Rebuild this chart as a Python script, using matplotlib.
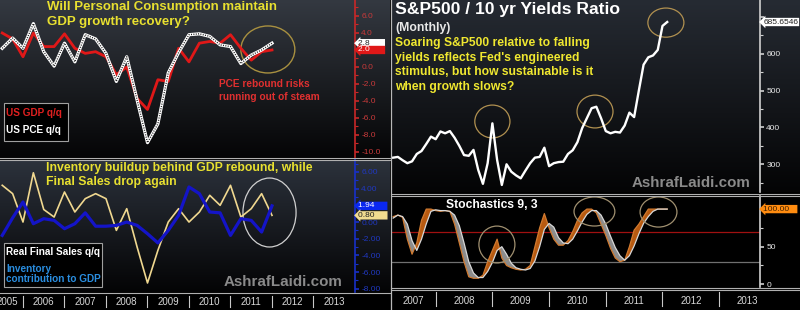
import numpy as np
import pandas as pd
import matplotlib.pyplot as plt
from matplotlib.colors import LinearSegmentedColormap
from matplotlib.patches import Ellipse, Rectangle
from matplotlib.lines import Line2D
from matplotlib.ticker import MultipleLocator, FuncFormatter

plt.rcParams['font.family'] = ['Liberation Sans', 'DejaVu Sans']
plt.rcParams['axes.unicode_minus'] = False

# quarterly data 2005Q2 - 2011Q4 (plotted at quarter end)
quarters = pd.period_range('2005Q2', '2011Q4', freq='Q')
gdp_qq = [4.0, 3.3, 1.2, 4.0, 2.4, 2.4, 3.9, 2.2, 1.6, 1.8, 1.2, -0.9, 0.0, -3.7,
          -5.0, -1.5, -1.7, 2.2, 0.6, 2.8, 3.0, 2.8, 3.8, 2.2, 0.8, 1.8, 2.0]
pce_qq = [2.2, 3.4, 2.2, 5.1, 1.8, 0.1, 2.8, 0.6, 3.8, 3.3, 1.6, -1.7, 1.2, -3.9,
          -8.9, -6.7, -0.7, 1.7, 3.8, 3.9, 3.6, 2.6, 2.4, 0.4, 1.4, 2.0, 2.8]
final_sales_qq = [4.4, 3.4, 0.0, 5.9, 1.5, 0.6, 3.6, 1.2, 2.8, 3.4, 2.8, -1.0, 1.6, -3.0,
                  -7.3, -3.4, 0.0, 1.6, 0.0, 1.2, 3.2, 2.0, 4.4, 0.6, 1.6, 3.4, 0.80]
inventory_contrib = [-1.6, 0.5, 2.4, -0.2, 0.4, 0.2, -0.8, -0.2, 1.1, -0.5, -0.5, -0.4, 0.0, -0.4,
                     -1.4, -2.5, -1.0, 0.8, 4.2, 3.4, 1.2, 1.1, -1.6, 0.4, 0.2, -1.2, 1.94]

# monthly data Apr 2007 - Feb 2012
months = pd.period_range('2007-04', '2012-02', freq='M')
spx_yield_ratio = [318, 320, 311, 303, 308, 328, 336, 355, 375, 368, 389, 384, 390, 372, 350,
                   325, 323, 339, 285, 247, 303, 411, 312, 244, 300, 280, 270, 262, 283, 303,
                   318, 320, 345, 295, 303, 306, 307, 328, 338, 360, 398, 425, 452, 456, 425,
                   390, 384, 388, 386, 405, 440, 428, 500, 570, 590, 595, 610, 675, 685.65]
stoch_k = [90, 92, 89, 60, 40, 55, 85, 100, 100, 98, 97, 98, 97, 80, 55, 30, 10, 8, 8, 12,
           30, 45, 60, 35, 25, 22, 20, 19, 20, 25, 50, 75, 94, 75, 60, 52, 52, 58, 70, 85,
           95, 100, 100, 95, 80, 65, 48, 35, 30, 32, 50, 72, 80, 90, 100, 100, 100, 100, 100]
stoch_d = [88, 92, 90, 80, 58, 45, 60, 80, 97, 99, 98, 98, 97, 92, 78, 55, 30, 15, 9, 9,
           17, 29, 45, 50, 40, 28, 22, 20, 19, 21, 31, 50, 73, 81, 76, 62, 55, 54, 60, 71,
           83, 93, 98, 98, 92, 80, 64, 49, 38, 32, 38, 51, 67, 81, 90, 97, 100, 100, 100]

years_left = list(range(2005, 2014))
years_right = list(range(2007, 2014))

xq = np.array([q.year + q.quarter / 4 for q in quarters])
xm = np.array([m.year + (m.month - 1) / 12 for m in months])

W, H = 800, 310
fig = plt.figure(figsize=(8, 3.1), dpi=100, facecolor='black')


def rect(x0, y0, x1, y1):
    return [x0 / W, 1 - y1 / H, (x1 - x0) / W, (y1 - y0) / H]


def background(r, top, bottom):
    bg = fig.add_axes(r)
    cm = LinearSegmentedColormap.from_list('bg', [top, bottom])
    bg.imshow(np.linspace(0, 1, 256)[:, None], aspect='auto', cmap=cm, extent=[0, 1, 0, 1])
    bg.axis('off')
    return bg


def panel(r, xlim, ylim, color, labelcolor, major, minor, fmt, hidden=()):
    ax = fig.add_axes(r, facecolor='none')
    ax.set_xlim(*xlim)
    ax.set_ylim(*ylim)
    for s in ['top', 'left', 'bottom']:
        ax.spines[s].set_visible(False)
    ax.spines['right'].set_color(color)
    ax.spines['right'].set_linewidth(1.2)
    ax.set_xticks([])
    ax.yaxis.tick_right()
    ax.yaxis.set_major_locator(MultipleLocator(major))
    ax.yaxis.set_minor_locator(MultipleLocator(minor))
    ax.yaxis.set_major_formatter(FuncFormatter(
        lambda v, p: '' if any(abs(v - h) < 1e-6 for h in hidden) else fmt % v))
    ax.tick_params(axis='y', which='major', colors=color, labelcolor=labelcolor,
                   labelsize=6, length=3, width=1.2, pad=1.5)
    ax.tick_params(axis='y', which='minor', colors=color, length=2, width=0.8)
    return ax


def value_tag(ax, v, text, fc, tc):
    ax.annotate(text, xy=(1, v), xycoords=ax.get_yaxis_transform(), xytext=(2.5, 0),
                textcoords='offset points', ha='left', va='center', fontsize=6, color=tc,
                bbox=dict(boxstyle='larrow,pad=0.08', fc=fc, ec='none'),
                annotation_clip=False, zorder=10)


def strip(r, xlim, years, sep_color, first_shift=0.0):
    ax = fig.add_axes(r, facecolor='black')
    ax.set_xlim(*xlim)
    ax.set_ylim(0, 1)
    ax.axis('off')
    for y in years[1:]:
        ax.axvline(y, ymin=0.2, ymax=0.85, color=sep_color, lw=0.8)
    for i, y in enumerate(years):
        lo, hi = max(y, xlim[0]), min(y + 1, xlim[1])
        xc = (lo + hi) / 2 - (first_shift if i == 0 else 0)
        ax.text(xc, 0.45, str(y), ha='center', va='center', fontsize=7,
                color='#d8d8d8', clip_on=True)
    return ax


# ---------------- left side ----------------
xl = (2005.446, 2014.0)
background(rect(0, 0, 390, 157), '#343941', '#050506')
background(rect(0, 160, 390, 292), '#2c323c', '#040405')

ax1 = panel(rect(0, 0, 355, 157), xl, (-10.59, 7.88), '#c82828', '#c83a3a', 2, 1, '%.1f',
            hidden=(2.0,))
ax1.plot(xq, gdp_qq, color='#e01818', lw=2.0, zorder=3)
ax1.plot(xq, pce_qq, color='white', lw=2.3, zorder=4)
ax1.plot(xq, pce_qq, color='#202020', lw=1.0, ls=(0, (0.7, 1.0)), zorder=5)
ax1.add_patch(Ellipse((2011.9, 2.06), 1.30, 5.53, fill=False, ec='#a89040', lw=1.0))
value_tag(ax1, 2.8, '2.8      ', 'white', '#202020')
value_tag(ax1, 2.0, '2.0      ', '#e01818', 'white')
ax1.text(47 / 355, 1 - 1 / 157, 'Will Personal Consumption maintain\nGDP growth recovery?',
         transform=ax1.transAxes, ha='left', va='top', fontsize=9.5, fontweight='bold',
         color='#e8e030', linespacing=1.35)
ax1.text(219 / 355, 1 - 79 / 157, 'PCE rebound risks\nrunning out of steam',
         transform=ax1.transAxes, ha='left', va='top', fontsize=7.3, fontweight='bold',
         color='#e03030', linespacing=1.35)
ax1.add_patch(Rectangle((4 / 355, 1 - 141 / 157), 64 / 355, 38 / 157, transform=ax1.transAxes,
                        fc='black', ec='#a0a0a0', lw=0.8, zorder=6))
ax1.text(6 / 355, 1 - 113 / 157, 'US GDP q/q', transform=ax1.transAxes, ha='left',
         va='center', fontsize=7.2, fontweight='bold', color='#e02020', zorder=7)
ax1.text(6 / 355, 1 - 130 / 157, 'US PCE q/q', transform=ax1.transAxes, ha='left',
         va='center', fontsize=7.2, fontweight='bold', color='white', zorder=7)

ax2 = panel(rect(0, 160, 355, 292), xl, (-8.38, 7.43), '#1830c8', '#2038c0', 2, 1, '%.2f',
            hidden=(2.0,))
ax2.plot(xq, final_sales_qq, color='#f0d890', lw=1.2, zorder=3)
ax2.plot(xq, inventory_contrib, color='#1414c8', lw=2.3, zorder=4)
ax2.add_patch(Ellipse((2011.94, 1.14), 1.28, 8.26, fill=False, ec='#d0d0d0', lw=0.9))
value_tag(ax2, 1.94, '1.94     ', '#0a28f0', 'white')
value_tag(ax2, 0.80, '0.80     ', '#f0dc90', '#202020')
ax2.text(46 / 355, 1 - 1.5 / 132, 'Inventory buildup behind GDP rebound, while\nFinal Sales drop again',
         transform=ax2.transAxes, ha='left', va='top', fontsize=8.8, fontweight='bold',
         color='#e8e030', linespacing=1.25)
ax2.add_patch(Rectangle((4 / 355, 1 - 127 / 132), 98 / 355, 44 / 132, transform=ax2.transAxes,
                        fc='black', ec='#a0a0a0', lw=0.8, zorder=6))
ax2.text(6 / 355, 1 - 92 / 132, 'Real Final Sales q/q', transform=ax2.transAxes, ha='left',
         va='center', fontsize=7.2, fontweight='bold', color='white', zorder=7)
ax2.text(6 / 355, 1 - 114 / 132, 'Inventory\ncontribution to GDP', transform=ax2.transAxes,
         ha='left', va='center', fontsize=7.2, fontweight='bold', color='#2a8ee0',
         linespacing=1.1, zorder=7)
ax2.text(283 / 355, 1 - 122 / 132, 'AshrafLaidi.com', transform=ax2.transAxes, ha='center',
         va='center', fontsize=10.9, fontweight='bold', color='#8a8a8a')

strip(rect(0, 293, 390, 310), (xl[0], xl[0] + (xl[1] - xl[0]) * 390 / 355), years_left,
      '#c8c8c8', first_shift=0.1)

# ---------------- right side ----------------
xr = (2007.212, 2013.72)
background(rect(391, 0, 800, 192), '#262b33', '#040405')
background(rect(391, 196, 800, 287), '#000000', '#000000')

ax3 = panel(rect(391, 0, 760, 192), xr, (224.9, 745.3), '#d0d0d0', '#e8e8e8', 100, 50, '%d',
            hidden=(700,))
ax3.plot(xm, spx_yield_ratio, color='white', lw=1.7, zorder=4)
for c, w, h in [((2009.0, 416), 0.62, 89), ((2010.81, 443), 0.635, 89), ((2012.06, 684), 0.635, 79)]:
    ax3.add_patch(Ellipse(c, w, h, fill=False, ec='#b09050', lw=0.9))
value_tag(ax3, 685.65, '685.6546', 'white', '#202020')
ax3.text(4 / 369, 1 - 2 / 192, 'S&P500 / 10 yr Yields Ratio', transform=ax3.transAxes,
         ha='left', va='top', fontsize=12.6, fontweight='bold', color='white')
ax3.text(4 / 369, 1 - 22 / 192, '(Monthly)', transform=ax3.transAxes, ha='left', va='top',
         fontsize=8.8, fontweight='bold', color='#e8e8e8')
ax3.text(4 / 369, 1 - 37 / 192,
         "Soaring S&P500 relative to falling\nyields reflects Fed's engineered\n"
         "stimulus, but how sustainable is it\nwhen growth slows?",
         transform=ax3.transAxes, ha='left', va='top', fontsize=8.7, fontweight='bold',
         color='#f0e830', linespacing=1.3)
ax3.text(300 / 369, 1 - 183 / 192, 'AshrafLaidi.com', transform=ax3.transAxes, ha='center',
         va='center', fontsize=10.9, fontweight='bold', color='#8a8a8a')

ax4 = panel(rect(391, 196, 760, 287), xr, (-3.6, 117.4), '#d0d0d0', '#e8e8e8', 50, 25, '%d',
            hidden=(100,))
ax4.axhline(70, color='#a01010', lw=0.9)
ax4.axhline(30, color='#707070', lw=0.9)
k = np.array(stoch_k, dtype=float)
d = np.array(stoch_d, dtype=float)
ax4.fill_between(xm, k, d, where=k >= d, interpolate=True, color='#b85a10', lw=0, zorder=3)
ax4.fill_between(xm, k, d, where=k < d, interpolate=True, color='#8c8c8c', lw=0, zorder=3)
ax4.plot(xm, k, color='#d07a30', lw=0.9, zorder=4)
ax4.plot(xm, d, color='#d8d8d8', lw=0.9, zorder=4)
for c, w, h in [((2009.08, 52.9), 0.635, 49), ((2010.80, 96.8), 0.72, 38.6), ((2011.93, 96.1), 0.65, 40)]:
    ax4.add_patch(Ellipse(c, w, h, fill=False, ec='#a09070', lw=0.9, zorder=5))
value_tag(ax4, 100, '100.00   ', '#ff8c10', '#402000')
ax4.text(55 / 369, 1 - 9 / 91, 'Stochastics 9, 3', transform=ax4.transAxes, ha='left',
         va='center', fontsize=8.7, fontweight='bold', color='white')

strip(rect(391, 289, 800, 310), (xr[0], xr[0] + (xr[1] - xr[0]) * 409 / 369), years_right, '#c8c8c8')

# panel borders
for y in [158, 160, 293]:
    fig.add_artist(Line2D([0, 390 / W], [1 - y / H] * 2, color='#b0b0b0', lw=0.8))
for y in [193.5, 195.5, 287.5, 289.5]:
    fig.add_artist(Line2D([391 / W, 1], [1 - y / H] * 2, color='#b0b0b0', lw=0.8))
fig.add_artist(Line2D([390.5 / W] * 2, [0, 1], color='#b8b8b8', lw=0.9))

fig.savefig('out.png', dpi=100, facecolor='black')
